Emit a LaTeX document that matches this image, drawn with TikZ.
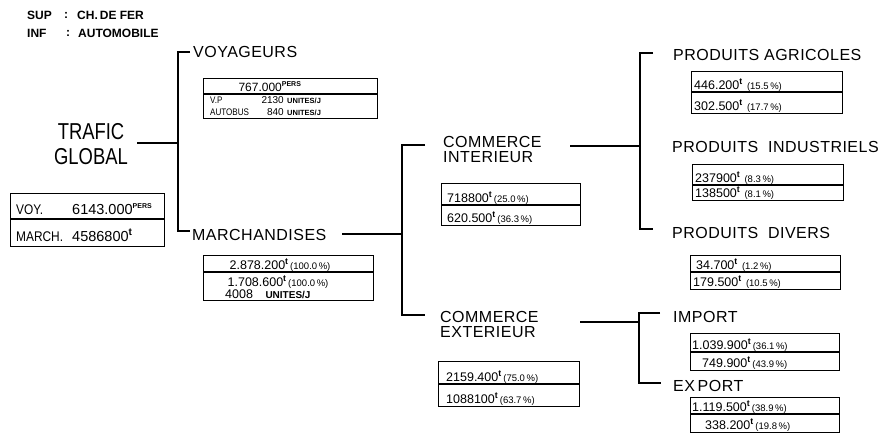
\documentclass[tikz,border=0pt]{standalone}
\usepackage{fontspec}
\setmainfont{Liberation Sans}
\newfontfamily\trffont{Liberation Sans}[FakeStretch=0.8]
\newfontfamily\lblfont{Liberation Sans}[LetterSpace=3]
\newfontfamily\cndfont{Liberation Sans}[FakeStretch=0.85]
\newcommand\tn{\textsuperscript{\bfseries t}}
\newcommand\pers{\textsuperscript{\bfseries\fontsize{7}{7}\selectfont PERS}}
\newcommand\pc[1]{{\fontsize{9.5}{9.5}\selectfont\,#1}}
\newcommand\sm[1]{{\bfseries\fontsize{7.5}{7.5}\selectfont #1}}
\newcommand\mybox[6]{%
  \node[tbl, minimum width=#4pt, minimum height=#5pt] (#1) at (#2,#3) {};
  \coordinate (#1d) at (0,#6);
  \draw[tline] (#1.west |- #1d) -- (#1.east |- #1d);}
\begin{document}
\begin{tikzpicture}[x=1pt,y=-1pt,
  lab/.style={font=\lblfont\fontsize{16}{15}\selectfont, inner sep=0pt, anchor=west, align=left},
  val/.style={font=\fontsize{12.5}{12.5}\selectfont, inner sep=0pt, anchor=base west},
  cval/.style={val, anchor=base},
  tbl/.style={draw, line width=1.4pt, inner sep=0pt, anchor=north west},
  tline/.style={line width=1.4pt},
  conn/.style={line width=1.6pt},
  leg/.style={font=\bfseries\fontsize{12}{12}\selectfont, inner sep=0pt, anchor=west}]
\useasboundingbox (0,0) rectangle (893,437);

% legend
\node[leg] (sup) at (27,15) {SUP};
\node[leg] (supc) at (64,15) {:};
\node[leg] (supt) at (77,15) {CH.\,DE FER};
\node[leg] (inf) at (27,33) {INF};
\node[leg] (infc) at (66,33) {:};
\node[leg] (inft) at (78,33) {AUTOMOBILE};

% titles
\node[font=\trffont\fontsize{23}{25}\selectfont, align=center, inner sep=0pt] (tg) at (91,144.5) {TRAFIC\\GLOBAL};
\node[lab] (voy) at (193,52) {VOYAGEURS};
\node[lab] (mar) at (192,235) {MARCHANDISES};
\node[lab] (ci) at (443,149.5) {COMMERCE\\INTERIEUR};
\node[lab] (ce) at (440,324.5) {COMMERCE\\EXTERIEUR};
\node[lab] (pa) at (673,55) {PRODUITS AGRICOLES};
\node[lab] (pi) at (672,147) {PRODUITS\ \ INDUSTRIELS};
\node[lab] (pd) at (672,233) {PRODUITS\ \ DIVERS};
\node[lab] (im) at (673,317) {IMPORT};
\node[lab] (ex) at (673,386) {EX\,PORT};

% connectors
\coordinate (t0) at (137,143);
\coordinate (b1m) at (178,143);
\coordinate (b1t) at (178,52);
\coordinate (b1b) at (178,231);
\coordinate (v0) at (190,52);
\coordinate (m0) at (190,231);
\draw[conn] (t0) -- (b1m);
\draw[conn] (v0) -- (b1t) -- (b1b) -- (m0);

\coordinate (m1) at (342,234);
\coordinate (b2m) at (402,234);
\coordinate (b2t) at (402,145);
\coordinate (b2b) at (402,315);
\coordinate (c0) at (425,145);
\coordinate (e0) at (425,315);
\draw[conn] (m1) -- (b2m);
\draw[conn] (c0) -- (b2t) -- (b2b) -- (e0);

\coordinate (ci1) at (570,146);
\coordinate (b3m) at (640,146);
\coordinate (b3t) at (640,53);
\coordinate (b3b) at (640,229);
\coordinate (pa0) at (653,53);
\coordinate (pd0) at (653,229);
\draw[conn] (ci1) -- (b3m);
\draw[conn] (pa0) -- (b3t) -- (b3b) -- (pd0);

\coordinate (ce1) at (580,322);
\coordinate (b4m) at (639,322);
\coordinate (b4t) at (639,313);
\coordinate (b4b) at (639,383);
\coordinate (im0) at (660,313);
\coordinate (ex0) at (661,383);
\draw[conn] (ce1) -- (b4m);
\draw[conn] (im0) -- (b4t) -- (b4b) -- (ex0);

% global box
\mybox{gbox}{10}{193}{154}{53}{219}
\node[val, font=\cndfont\fontsize{14}{14}\selectfont] (gv1) at (16,214) {VOY.};
\node[val, font=\fontsize{14.5}{14.5}\selectfont] (gv2) at (72,214) {6143.000\pers};
\node[val, font=\cndfont\fontsize{14}{14}\selectfont] (gm1) at (16,241) {MARCH.};
\node[val, font=\fontsize{14.5}{14.5}\selectfont] (gm2) at (72,241) {4586800\tn};

% voyageurs box
\mybox{vbox}{203}{78}{174}{40}{94}
\node[cval, font=\fontsize{12}{12}\selectfont] (v1) at (270,91) {767.000\pers};
\node[val, font=\cndfont\fontsize{9.5}{9.5}\selectfont] (v2a) at (210,103.5) {V.P};
\node[val, anchor=base east, font=\fontsize{10}{10}\selectfont] (v2b) at (284,103.5) {2130};
\node[val] (v2c) at (287,103.5) {\sm{UNITES/J}};
\node[val, font=\cndfont\fontsize{9.5}{9.5}\selectfont] (v3a) at (210,115) {AUTOBUS};
\node[val, anchor=base east, font=\fontsize{10}{10}\selectfont] (v3b) at (284,115) {840};
\node[val] (v3c) at (287,115) {\sm{UNITES/J}};

% marchandises box
\mybox{mbox}{203}{255}{170}{45}{272}
\node[cval] (m1t) at (280,269) {2.878.200\tn\pc{(100.0\,\%)}};
\node[cval] (m2t) at (278,286) {1.708.600\tn\pc{(100.0\,\%)}};
\node[val] (m3t) at (225,298) {4008\quad\sm{\fontsize{10}{10}\selectfont UNITES/J}};

% commerce interieur
\mybox{cibox}{441}{183}{139}{42}{205}
\node[val] (ci1t) at (447,202) {718800\tn\pc{(25.0\,\%)}};
\node[val] (ci2t) at (447,222) {620.500\tn\pc{(36.3\,\%)}};

% commerce exterieur
\mybox{cebox}{438}{361}{141}{45}{384}
\node[val] (ce1t) at (446,381) {2159.400\tn\pc{(75.0\,\%)}};
\node[val] (ce2t) at (446,403) {1088100\tn\pc{(63.7\,\%)}};

% produits agricoles
\mybox{pabox}{691}{71}{151}{42}{92}
\node[val] (pa1t) at (694,89) {446.200\tn\pc{\ (15.5\,\%)}};
\node[val] (pa2t) at (694,110) {302.500\tn\pc{\ (17.7\,\%)}};

% produits industriels
\mybox{pibox}{692}{164}{151}{36}{185}
\node[val] (pi1t) at (695,182) {237900\tn\pc{\ (8.3\,\%)}};
\node[val] (pi2t) at (695,197) {138500\tn\pc{\ (8.1\,\%)}};

% produits divers
\mybox{pdbox}{690}{255}{150}{34}{272}
\node[val] (pd1t) at (696,269) {34.700\tn\pc{\ (1.2\,\%)}};
\node[val] (pd2t) at (693,286) {179.500\tn\pc{\ (10.5\,\%)}};

% import
\mybox{imbox}{690}{333}{149}{37}{352}
\node[val] (im1t) at (692,349) {1.039.900\tn\pc{(36.1\,\%)}};
\node[val] (im2t) at (702,367) {749.900\tn\pc{(43.9\,\%)}};

% export
\mybox{exbox}{690}{397}{149}{35}{414}
\node[val] (ex1t) at (692,411) {1.119.500\tn\pc{(38.9\,\%)}};
\node[val] (ex2t) at (705,429) {338.200\tn\pc{(19.8\,\%)}};
\end{tikzpicture}
\end{document}
